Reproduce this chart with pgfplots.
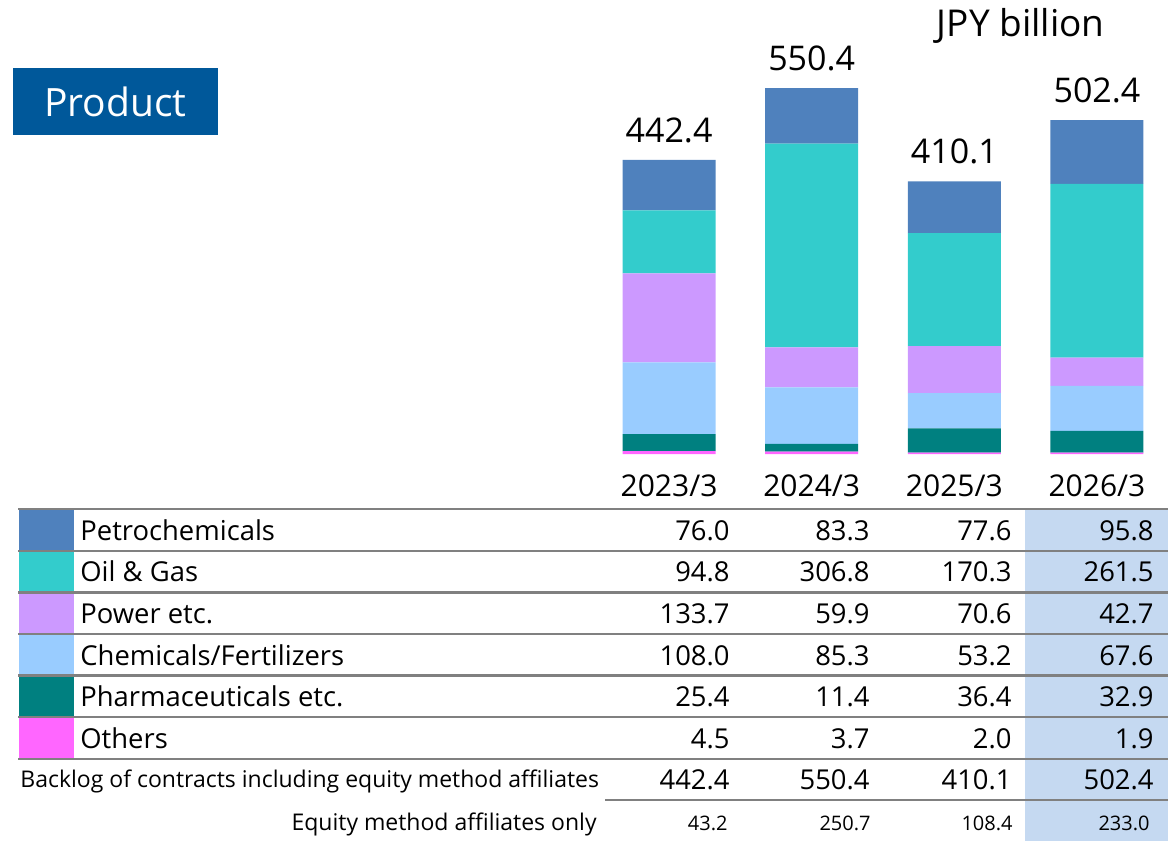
\documentclass[border=0pt]{standalone}
\usepackage{fontspec}
\setmainfont{Open Sans}
\usepackage{pgfplots}
\usepackage{pgfplotstable}
\pgfplotsset{compat=1.18}

\definecolor{cPetro}{HTML}{4F81BD}
\definecolor{cOil}{HTML}{33CCCC}
\definecolor{cPower}{HTML}{CC99FF}
\definecolor{cChem}{HTML}{99CCFF}
\definecolor{cPharma}{HTML}{008080}
\definecolor{cOther}{HTML}{FF66FF}
\definecolor{prodblue}{HTML}{00589A}
\definecolor{hilite}{HTML}{C5D9F1}
\definecolor{rule}{HTML}{808080}

% backlog of contracts, JPY billion
\pgfplotstableread{
x others pharma chem  power oil   petro total
0 4.5    25.4   108.0 133.7 94.8  76.0  442.4
1 3.7    11.4   85.3  59.9  306.8 83.3  550.4
2 2.0    36.4   53.2  70.6  170.3 77.6  410.1
3 1.9    32.9   67.6  42.7  261.5 95.8  502.4
}\backlog

\newcommand{\fs}[1]{\fontsize{#1}{#1}\selectfont}

\pgfplotsset{frame/.style={
    at={(298.85pt,-227pt)}, anchor=south west,
    scale only axis,
    width=285.3pt, height=199.4pt,
    xmin=-0.5, xmax=3.5,
    ymin=0, ymax=600,
    clip=false,
}}

\begin{document}
\begin{tikzpicture}
% the axis, placed in pt (1 px of the reference = 0.5pt, y downwards)
\begin{axis}[
    frame,
    ybar stacked,
    bar width=46.5pt,
    axis line style={draw=none},
    ytick=\empty,
    xtick={0,1,2,3},
    xticklabels={2023/3,2024/3,2025/3,2026/3},
    major tick style={draw=none},
    xticklabel style={font=\fs{15}, anchor=base, yshift=-21pt, inner sep=0},
    ]
    \addplot[fill=cOther,draw=none]  table[x=x,y=others]{\backlog};
    \addplot[fill=cPharma,draw=none] table[x=x,y=pharma]{\backlog};
    \addplot[fill=cChem,draw=none]   table[x=x,y=chem]{\backlog};
    \addplot[fill=cPower,draw=none]  table[x=x,y=power]{\backlog};
    \addplot[fill=cOil,draw=none]    table[x=x,y=oil]{\backlog};
    \addplot[fill=cPetro,draw=none]  table[x=x,y=petro]{\backlog};
\end{axis}
% totals above the bars
\begin{axis}[frame, hide axis]
    \addplot[draw=none, mark=none,
        point meta=explicit symbolic,
        nodes near coords,
        nodes near coords style={font=\fs{17}, anchor=south, inner sep=0pt, yshift=8.5pt}]
        table[x=x,y=total,meta=total]{\backlog};
\end{axis}

\begin{scope}[x=0.5pt,y=-0.5pt]
% page frame in pixels
\path (0,0) rectangle (1175,841);

% title box and unit
\fill[prodblue] (13,68) rectangle (218,135);
\node[text=white,font=\fs{19.5}] at (115.5,101.5) {Product};
\node[anchor=base east,font=\fs{18.5},inner sep=0] at (1105,36) {JPY billion};

% table below the chart
\fill[hilite] (1025,509) rectangle (1168,841);
\fill[cPetro]  (19,509) rectangle (74,551);
\fill[cOil]    (19,551) rectangle (74,592.5);
\fill[cPower]  (19,592.5) rectangle (74,634);
\fill[cChem]   (19,634) rectangle (74,675.5);
\fill[cPharma] (19,675.5) rectangle (74,717);
\fill[cOther]  (19,717) rectangle (74,759);
\foreach \yy in {509,551,592.5,634,675.5,717,759}
    \draw[rule,line width=1.3pt] (18,\yy) -- (1168,\yy);
\draw[rule,line width=1.3pt] (605,800) -- (1168,800);

\begin{scope}[every node/.style={inner sep=0,font=\fs{13.7}}]
\node[anchor=base west] at (80,540)   {Petrochemicals};
\node[anchor=base west] at (80,581.5) {Oil \& Gas};
\node[anchor=base west] at (80,623)   {Power etc.};
\node[anchor=base west] at (80,665)   {Chemicals/Fertilizers};
\node[anchor=base west] at (80,706)   {Pharmaceuticals etc.};
\node[anchor=base west] at (80,748)   {Others};
\foreach \yy/\a/\b/\c/\d in {540/76.0/83.3/77.6/95.8,
                             581.5/94.8/306.8/170.3/261.5,
                             623/133.7/59.9/70.6/42.7,
                             665/108.0/85.3/53.2/67.6,
                             706/25.4/11.4/36.4/32.9,
                             748/4.5/3.7/2.0/1.9,
                             789/442.4/550.4/410.1/502.4}{
    \node[anchor=base east] at (730,\yy)  {\a};
    \node[anchor=base east] at (870,\yy)  {\b};
    \node[anchor=base east] at (1012,\yy) {\c};
    \node[anchor=base east] at (1154,\yy) {\d};
}
\end{scope}
\node[anchor=base west,inner sep=0,font=\fs{11.5}] at (20,787) {Backlog of contracts including equity method affiliates};
\node[anchor=base east,inner sep=0,font=\fs{11.5}] at (597,830) {Equity method affiliates only};
\begin{scope}[every node/.style={inner sep=0,font=\fs{10},anchor=base east}]
\node at (728,830)  {43.2};
\node at (871,830)  {250.7};
\node at (1013,830) {108.4};
\node at (1150,830) {233.0};
\end{scope}
\end{scope}
\end{tikzpicture}
\end{document}
